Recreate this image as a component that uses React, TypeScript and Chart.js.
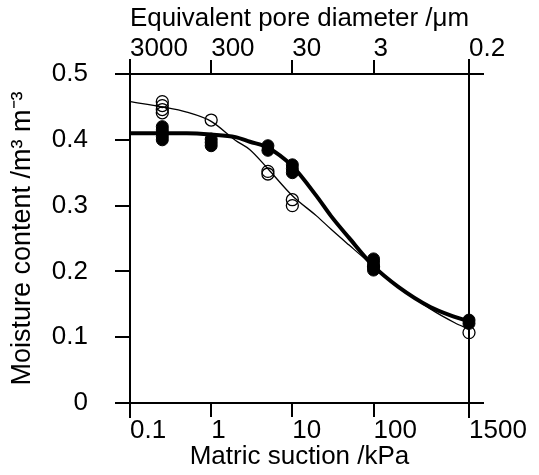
import React, { useEffect, useRef } from 'react';
import { Chart, registerables } from 'chart.js';

Chart.register(...registerables);

// Axis ticks
const suctionTicks = [0.1, 1, 10, 100, 1500];
const suctionLabels = ['0.1', '1', '10', '100', '1500'];
const poreLabels = ['3000', '300', '30', '3', '0.2'];
const moistureTicks = [0, 0.1, 0.2, 0.3, 0.4, 0.5];
const moistureLabels = ['0', '0.1', '0.2', '0.3', '0.4', '0.5'];

// Measured points (filled circles)
const filledSuction = [0.25, 0.25, 0.25, 0.25, 0.25, 1, 1, 1, 5, 5, 10, 10, 10, 100, 100, 100, 100, 1500, 1500];
const filledMoisture = [0.4, 0.405, 0.41, 0.415, 0.42, 0.391, 0.396, 0.401, 0.384, 0.391, 0.35, 0.356, 0.362, 0.202, 0.208, 0.214, 0.219, 0.121, 0.126];

// Measured points (open circles)
const openSuction = [0.25, 0.25, 0.25, 0.25, 1, 5, 5, 10, 10, 100, 1500];
const openMoisture = [0.458, 0.452, 0.446, 0.441, 0.43, 0.348, 0.352, 0.3, 0.309, 0.207, 0.107];

// Fitted curves
const curveSuction = [0.1, 0.25, 0.5, 1, 2, 3, 5, 10, 20, 30, 50, 100, 200, 500, 1000, 1500];
const fittedFilled = [0.41, 0.41, 0.41, 0.408, 0.404, 0.397, 0.388, 0.36, 0.314, 0.284, 0.251, 0.208, 0.177, 0.146, 0.131, 0.124];
const fittedOpen = [0.458, 0.45, 0.442, 0.428, 0.399, 0.385, 0.356, 0.315, 0.284, 0.264, 0.24, 0.208, 0.178, 0.143, 0.122, 0.112];

const toXY = (xs: number[], ys: number[]) => xs.map((x, i) => ({ x, y: ys[i] }));

const FONT = 'Liberation Sans, Arial, Helvetica, sans-serif';

const framePlugin = {
  id: 'frame',
  beforeDatasetsDraw(chart: any) {
    const { ctx, chartArea } = chart;
    const { left, right, top, bottom } = chartArea;
    const ext = 15;
    ctx.save();
    ctx.strokeStyle = '#000';
    ctx.lineWidth = 2;
    ctx.beginPath();
    ctx.moveTo(left - ext, top);
    ctx.lineTo(right + ext, top);
    ctx.moveTo(left - ext, bottom);
    ctx.lineTo(right + ext, bottom);
    ctx.moveTo(left, top - ext);
    ctx.lineTo(left, bottom + ext);
    ctx.moveTo(right, top - ext);
    ctx.lineTo(right, bottom + ext);
    ctx.stroke();
    ctx.restore();
  },
};

export default function App() {
  const canvasRef = useRef<HTMLCanvasElement | null>(null);

  useEffect(() => {
    if (!canvasRef.current) return;
    const tickFont = { family: FONT, size: 26, lineHeight: 1 };
    const titleFont = { family: FONT, size: 26 };
    const chart = new Chart(canvasRef.current, {
      type: 'scatter',
      data: {
        datasets: [
          {
            label: 'filled',
            data: toXY(filledSuction, filledMoisture),
            pointRadius: 6,
            pointBackgroundColor: '#000',
            pointBorderColor: '#000',
            pointBorderWidth: 1,
            showLine: false,
            clip: false,
            order: 0,
          },
          {
            label: 'fit filled',
            data: toXY(curveSuction, fittedFilled),
            showLine: true,
            pointRadius: 0,
            borderColor: '#000',
            borderWidth: 4,
            cubicInterpolationMode: 'monotone',
            clip: false,
            order: 1,
          },
          {
            label: 'fit open',
            data: toXY(curveSuction, fittedOpen),
            showLine: true,
            pointRadius: 0,
            borderColor: '#000',
            borderWidth: 1.3,
            cubicInterpolationMode: 'monotone',
            clip: false,
            order: 2,
          },
          {
            label: 'open',
            data: toXY(openSuction, openMoisture),
            pointRadius: 6,
            pointBackgroundColor: 'rgba(0,0,0,0)',
            pointBorderColor: '#000',
            pointBorderWidth: 1.3,
            showLine: false,
            clip: false,
            order: 3,
          },
        ] as any,
      },
      options: {
        animation: false,
        responsive: false,
        layout: { padding: { left: 0, right: 70, top: 0, bottom: 0 } },
        plugins: { legend: { display: false }, tooltip: { enabled: false } },
        scales: {
          x: {
            type: 'logarithmic',
            position: 'bottom',
            min: 0.1,
            max: 1500,
            afterBuildTicks: (s: any) => {
              s.ticks = suctionTicks.map((v) => ({ value: v }));
            },
            afterFit: (s: any) => {
              s.height = 72;
            },
            border: { display: false },
            grid: { drawOnChartArea: false, drawTicks: true, tickLength: 14, tickWidth: 2, tickColor: '#000', color: '#000', lineWidth: 2 },
            ticks: {
              autoSkip: false,
              maxRotation: 0,
              align: 'start',
              padding: 1,
              color: '#000',
              font: tickFont,
              callback: (_v: any, i: number) => suctionLabels[i],
            },
            title: { display: true, text: 'Matric suction /kPa', color: '#000', font: titleFont, padding: { top: 0, bottom: 3 } },
          },
          x2: {
            type: 'logarithmic',
            position: 'top',
            min: 0.1,
            max: 1500,
            afterBuildTicks: (s: any) => {
              s.ticks = suctionTicks.map((v) => ({ value: v }));
            },
            afterFit: (s: any) => {
              s.height = 74;
            },
            border: { display: false },
            grid: { drawOnChartArea: false, drawTicks: true, tickLength: 14, tickWidth: 2, tickColor: '#000', color: '#000', lineWidth: 2 },
            ticks: {
              autoSkip: false,
              maxRotation: 0,
              align: 'start',
              padding: -2,
              color: '#000',
              font: tickFont,
              callback: (_v: any, i: number) => poreLabels[i],
            },
            title: { display: true, text: 'Equivalent pore diameter /μm', color: '#000', font: titleFont, padding: { top: 3, bottom: 0 } },
          },
          y: {
            type: 'linear',
            position: 'left',
            min: 0,
            max: 0.5,
            afterBuildTicks: (s: any) => {
              s.ticks = moistureTicks.map((v) => ({ value: v }));
            },
            afterFit: (s: any) => {
              s.width = 130;
            },
            border: { display: false },
            grid: { drawOnChartArea: false, drawTicks: true, tickLength: 15, tickWidth: 2, tickColor: '#000', color: '#000', lineWidth: 2 },
            ticks: {
              padding: 27,
              color: '#000',
              font: tickFont,
              callback: (_v: any, i: number) => moistureLabels[i],
            },
            title: { display: true, text: 'Moisture content /m³ m⁻³', color: '#000', font: { family: FONT, size: 27 }, padding: { top: 6, bottom: 0 } },
          },
        },
      } as any,
      plugins: [framePlugin],
    });
    return () => chart.destroy();
  }, []);

  return (
    <div style={{ position: 'fixed', left: 0, top: 0, width: 539, height: 475, background: '#fff' }}>
      <canvas ref={canvasRef} width={539} height={475} style={{ display: 'block', width: 539, height: 475 }} />
    </div>
  );
}
